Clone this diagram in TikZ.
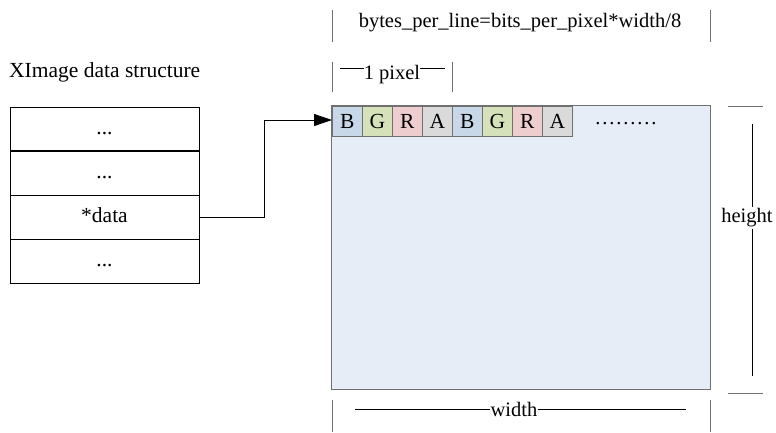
\documentclass[tikz,border=0pt]{standalone}
\usepackage{fontspec}
\setmainfont{Liberation Serif}
\usetikzlibrary{arrows.meta}
\definecolor{cellB}{HTML}{C9D8E8}
\definecolor{cellG}{HTML}{D5E2B9}
\definecolor{cellR}{HTML}{EDCDCD}
\definecolor{cellA}{HTML}{DADADA}
\definecolor{canvas}{HTML}{E7EDF7}
\definecolor{rule}{HTML}{707070}
\tikzset{
  lbl/.style={font=\fontsize{20.5}{22}\selectfont, inner sep=1pt},
  row/.style={draw=black, line width=0.8pt, minimum width=189pt, minimum height=44pt, inner sep=0pt, text height=14pt, text depth=4pt, font=\fontsize{21.5}{23}\selectfont},
  cell/.style={draw=rule, line width=0.8pt, minimum width=30pt, minimum height=30pt, inner sep=0pt, anchor=north west, font=\fontsize{21.5}{23}\selectfont},
  tick/.style={draw=rule, line width=1pt},
  dim/.style={draw=black, line width=0.6pt}
}
\begin{document}
\begin{tikzpicture}[x=1pt,y=-1pt]
\useasboundingbox (0,0) rectangle (776,432);

% XImage structure
\node[lbl, font=\fontsize{21.5}{23}\selectfont, anchor=west] (title) at (8,72) {XImage data structure};
\node[row] (r1) at (104.5,129) {...};
\node[row] (r2) at (104.5,173.5) {...};
\node[row] (r3) at (104.5,217.5) {*data};
\node[row] (r4) at (104.5,261) {...};
\draw[line width=1.5pt] (r2.north west) -- (r2.north east);

% pixel buffer
\node[draw=rule, line width=1pt, fill=canvas, minimum width=379pt, minimum height=284pt, inner sep=0pt, anchor=north west] (buf) at (331,105) {};
\node[cell, fill=cellB] (c1) at (332,106) {B};
\node[cell, fill=cellG] (c2) at (362,106) {G};
\node[cell, fill=cellR] (c3) at (392,106) {R};
\node[cell, fill=cellA] (c4) at (422,106) {A};
\node[cell, fill=cellB] (c5) at (452,106) {B};
\node[cell, fill=cellG] (c6) at (482,106) {G};
\node[cell, fill=cellR] (c7) at (512,106) {R};
\node[cell, fill=cellA] (c8) at (542,106) {A};
\node[lbl] (more) at (626,124) {\hbox to 63pt{\xleaders\hbox to 7pt{\hss.\hss}\hfill}};

% pointer from *data to the buffer
\coordinate (bend) at (264,120);
\draw[line width=0.8pt, -{Triangle[length=18pt,width=12pt]}] (r3.east) -- (r3.east -| bend) -- (bend) -- (c1.west |- bend);

% bytes per line
\draw[tick] (332,10) -- (332,42);
\draw[tick] (710,10) -- (710,42);
\node[lbl] (bpl) at (520,23) {bytes\_per\_line=bits\_per\_pixel*width/8};

% one pixel
\draw[tick] (332,62) -- (332,92);
\draw[tick] (452,62) -- (452,92);
\node[lbl, inner sep=0pt] (px) at (392,75) {1 pixel};
\draw[dim] (340,68) -- (px.west |- 0,68);
\draw[dim] (px.east |- 0,68) -- (445,68);

% height
\draw[tick] (728,106) -- (763,106);
\draw[tick] (728,393) -- (763,393);
\node[lbl] (h) at (747,218) {height};
\draw[dim] (752,124) -- (h.north -| 752,0);
\draw[dim] (h.south -| 752,0) -- (752,376);

% width
\draw[tick] (332,400) -- (332,432);
\draw[tick] (710,400) -- (710,432);
\node[lbl, inner sep=0pt] (w) at (514,409) {width};
\draw[dim] (355,409) -- (w.west |- 0,409);
\draw[dim] (w.east |- 0,409) -- (686,409);
\end{tikzpicture}
\end{document}
